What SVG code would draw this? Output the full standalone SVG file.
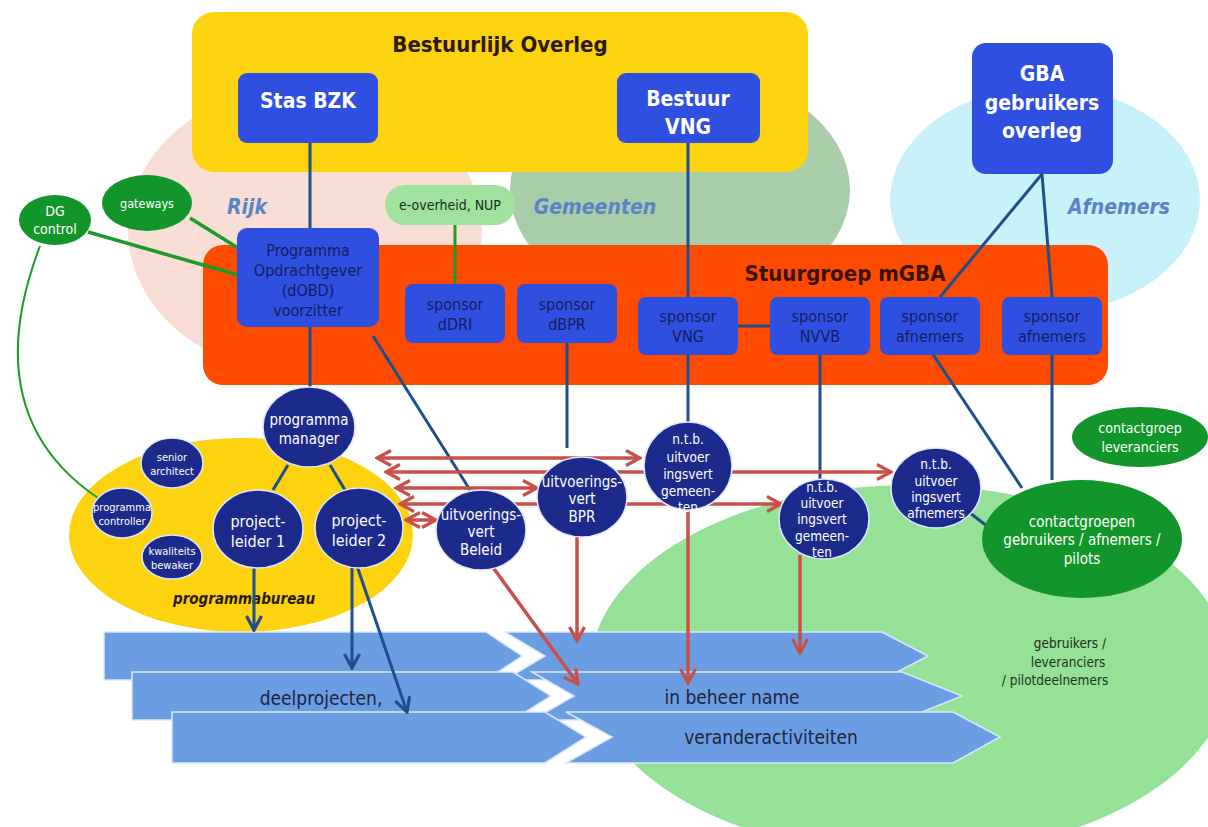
<svg xmlns="http://www.w3.org/2000/svg" width="1208" height="827" viewBox="0 0 1208 827">
<defs>
<style>
text{font-family:"DejaVu Sans Condensed","DejaVu Sans",sans-serif;text-anchor:middle}
.bx{fill:#2f4fe0}
.wb{fill:#ffffff;font-weight:bold;font-size:21px}
.dk{fill:#141c5c;font-size:16px}
.circ{fill:#1c2a8c;stroke:#dfe6ff;stroke-width:1.5}
.ct{fill:#ffffff}
.grn{fill:#12962c}
.reg{fill:#5a82c4;font-weight:bold;font-style:italic;font-size:21px}
.con{stroke:#1f4f8a;stroke-width:3;fill:none}
.gcon{stroke:#1e9a2a;fill:none}
.red{stroke:#c8504a;stroke-width:3.5;fill:none}
.band{fill:#6b9de2;stroke:#dbe7fb;stroke-width:1.5}
.bt{fill:#1c2440;font-size:19px}
</style>
<marker id="ar" viewBox="0 0 18 18" refX="16" refY="9" markerWidth="18" markerHeight="18" markerUnits="userSpaceOnUse" orient="auto-start-reverse">
<path d="M2,1.5 L16,9 L2,16.5" fill="none" stroke="#c8504a" stroke-width="3.2"/>
</marker>
<marker id="ab" viewBox="0 0 18 18" refX="16" refY="9" markerWidth="18" markerHeight="18" markerUnits="userSpaceOnUse" orient="auto">
<path d="M2,1.5 L16,9 L2,16.5" fill="none" stroke="#1f4f8a" stroke-width="3.2"/>
</marker>
</defs>
<rect width="1208" height="827" fill="#ffffff"/>

<g id="background">
<ellipse cx="305" cy="230" rx="177" ry="145" fill="#f8ded5"/>
<ellipse cx="680" cy="190" rx="170" ry="120" fill="#a9cda9"/>
<ellipse cx="1045" cy="200" rx="155" ry="113" fill="#c9f1f9"/>
<ellipse cx="910" cy="670" rx="320" ry="185" fill="#95e198"/>
</g>

<g id="bestuurlijk-overleg">
<rect x="192" y="12" width="616" height="160" rx="22" fill="#fdd20e"/>
<text x="500" y="52" style="font-weight:bold;font-size:22px;fill:#2b1a08">Bestuurlijk Overleg</text>
</g>

<g id="stuurgroep">
<rect x="203" y="245" width="905" height="140" rx="20" fill="#fe4b00"/>
<text x="845" y="281" style="font-weight:bold;font-size:22px;fill:#3a1200">Stuurgroep mGBA</text>
</g>

<g id="programmabureau">
<ellipse cx="241" cy="535" rx="172" ry="97" fill="#fdd20e"/>
<text x="244" y="604" style="font-weight:bold;font-style:italic;font-size:15px;fill:#2b1a08">programmabureau</text>
</g>

<g id="labels">
<text class="reg" x="247" y="214">Rijk</text>
<text class="reg" x="595" y="214">Gemeenten</text>
<text class="reg" x="1119" y="214">Afnemers</text>
<text x="1070" y="648" style="font-size:13.5px;fill:#1e301e">gebruikers /</text>
<text x="1068" y="667" style="font-size:13.5px;fill:#1e301e">leveranciers</text>
<text x="1055" y="685" style="font-size:13.5px;fill:#1e301e">/ pilotdeelnemers</text>
</g>

<g id="bands">
<polygon class="band" points="104,632 486,632 522,656 486,680 104,680"/>
<polygon class="band" points="505,632 882,632 928,656 882,680 505,680 545,656"/>
<polygon class="band" points="132,672 513,672 551,696 513,720 132,720"/>
<polygon class="band" points="532,672 902,672 962,696 902,720 532,720 574,696"/>
<polygon class="band" points="172,712 545,712 586,737 545,763 172,763"/>
<polygon class="band" points="566,712 953,712 1000,737 953,763 566,763 612,737"/>
<text class="bt" x="321" y="705">deelprojecten,</text>
<text class="bt" x="732" y="704">in beheer name</text>
<text class="bt" x="771" y="744">veranderactiviteiten</text>
</g>

<g id="connectors">
<line class="con" x1="310" y1="143" x2="310" y2="228"/>
<line class="con" x1="688" y1="143" x2="688" y2="297"/>
<line class="con" x1="738" y1="326" x2="770" y2="326"/>
<line class="con" x1="1042" y1="174" x2="940" y2="297"/>
<line class="con" x1="1042" y1="174" x2="1052" y2="297"/>
<line class="con" x1="310" y1="327" x2="310" y2="388"/>
<line class="con" x1="373" y1="336" x2="470" y2="490"/>
<line class="con" x1="567" y1="343" x2="567" y2="448"/>
<line class="con" x1="688" y1="355" x2="688" y2="423"/>
<line class="con" x1="820" y1="355" x2="820" y2="480"/>
<line class="con" x1="932" y1="353" x2="1022" y2="488"/>
<line class="con" x1="1052" y1="355" x2="1052" y2="480"/>
<line class="con" x1="970" y1="513" x2="987" y2="526"/>
<line class="con" x1="288" y1="465" x2="273" y2="490"/>
<line class="con" x1="330" y1="465" x2="345" y2="490"/>
<line class="con" x1="254" y1="566" x2="254" y2="630" marker-end="url(#ab)"/>
<line class="con" x1="352" y1="566" x2="352" y2="668" marker-end="url(#ab)"/>
<line class="con" x1="357" y1="566" x2="407" y2="712" marker-end="url(#ab)"/>
<line class="gcon" stroke-width="3" x1="455" y1="225" x2="455" y2="284"/>
<line class="gcon" stroke-width="3.5" x1="190" y1="218" x2="238" y2="248"/>
<line class="gcon" stroke-width="3.5" x1="88" y1="232" x2="238" y2="275"/>
<path class="gcon" stroke-width="2" d="M40,246 C8,330 -2,430 98,498"/>
<line class="red" x1="377" y1="458" x2="640" y2="458" marker-start="url(#ar)" marker-end="url(#ar)"/>
<line class="red" x1="386" y1="472" x2="891" y2="472" marker-start="url(#ar)" marker-end="url(#ar)"/>
<line class="red" x1="396" y1="488" x2="537" y2="488" marker-start="url(#ar)" marker-end="url(#ar)"/>
<line class="red" x1="400" y1="504" x2="781" y2="504" marker-start="url(#ar)" marker-end="url(#ar)"/>
<line class="red" x1="406" y1="520" x2="436" y2="520" marker-start="url(#ar)" marker-end="url(#ar)"/>
<line class="red" x1="484" y1="555" x2="578" y2="684" marker-end="url(#ar)"/>
<line class="red" x1="577" y1="535" x2="577" y2="641" marker-end="url(#ar)"/>
<line class="red" x1="688" y1="508" x2="688" y2="683" marker-end="url(#ar)"/>
<line class="red" x1="800" y1="555" x2="800" y2="653" marker-end="url(#ar)"/>
</g>

<g id="stas-bzk">
<rect class="bx" x="238" y="73" width="140" height="70" rx="9"/>
<text class="wb" x="308" y="108">Stas BZK</text>
</g>
<g id="bestuur-vng">
<rect class="bx" x="617" y="73" width="143" height="70" rx="9"/>
<text class="wb" x="688" y="106">Bestuur</text>
<text class="wb" x="688" y="134">VNG</text>
</g>
<g id="gba-gebruikers-overleg">
<rect class="bx" x="972" y="43" width="141" height="131" rx="14"/>
<text class="wb" x="1042" y="81">GBA</text>
<text class="wb" x="1042" y="110">gebruikers</text>
<text class="wb" x="1042" y="138">overleg</text>
</g>

<g id="dg-control">
<ellipse class="grn" cx="55" cy="220" rx="36" ry="25"/>
<text class="ct" x="55" y="216" style="font-size:14px">DG</text>
<text class="ct" x="55" y="234" style="font-size:14px">control</text>
</g>
<g id="gateways">
<ellipse class="grn" cx="147" cy="203" rx="45" ry="28"/>
<text class="ct" x="147" y="208" style="font-size:12.5px">gateways</text>
</g>
<g id="e-overheid">
<rect x="385" y="185" width="130" height="40" rx="20" fill="#9fe2a0"/>
<text x="450" y="210" style="font-size:14px;fill:#1a2a1a">e-overheid, NUP</text>
</g>

<g id="programma-opdrachtgever">
<rect class="bx" x="237" y="228" width="142" height="99" rx="10"/>
<text class="dk" x="308" y="256">Programma</text>
<text class="dk" x="308" y="276">Opdrachtgever</text>
<text class="dk" x="308" y="296">(dOBD)</text>
<text class="dk" x="308" y="316">voorzitter</text>
</g>
<g id="sponsor-ddri">
<rect class="bx" x="405" y="284" width="100" height="59" rx="8"/>
<text class="dk" x="455" y="310">sponsor</text>
<text class="dk" x="455" y="330">dDRI</text>
</g>
<g id="sponsor-dbpr">
<rect class="bx" x="517" y="284" width="100" height="59" rx="8"/>
<text class="dk" x="567" y="310">sponsor</text>
<text class="dk" x="567" y="330">dBPR</text>
</g>
<g id="sponsor-vng">
<rect class="bx" x="638" y="297" width="100" height="58" rx="8"/>
<text class="dk" x="688" y="322">sponsor</text>
<text class="dk" x="688" y="342">VNG</text>
</g>
<g id="sponsor-nvvb">
<rect class="bx" x="770" y="297" width="100" height="58" rx="8"/>
<text class="dk" x="820" y="322">sponsor</text>
<text class="dk" x="820" y="342">NVVB</text>
</g>
<g id="sponsor-afnemers-1">
<rect class="bx" x="880" y="297" width="100" height="58" rx="8"/>
<text class="dk" x="930" y="322">sponsor</text>
<text class="dk" x="930" y="342">afnemers</text>
</g>
<g id="sponsor-afnemers-2">
<rect class="bx" x="1002" y="297" width="100" height="58" rx="8"/>
<text class="dk" x="1052" y="322">sponsor</text>
<text class="dk" x="1052" y="342">afnemers</text>
</g>

<g id="programma-manager">
<ellipse class="circ" cx="309" cy="427" rx="46" ry="40"/>
<text class="ct" x="309" y="425" style="font-size:15px">programma</text>
<text class="ct" x="309" y="444" style="font-size:15px">manager</text>
</g>
<g id="senior-architect">
<ellipse class="circ" cx="172" cy="463" rx="31" ry="25"/>
<text class="ct" x="172" y="461" style="font-size:11px">senior</text>
<text class="ct" x="172" y="475" style="font-size:11px">architect</text>
</g>
<g id="programma-controller">
<ellipse class="circ" cx="122" cy="513" rx="30" ry="25"/>
<text class="ct" x="122" y="511" style="font-size:11px">programma</text>
<text class="ct" x="122" y="525" style="font-size:11px">controller</text>
</g>
<g id="kwaliteits-bewaker">
<ellipse class="circ" cx="172" cy="557" rx="30" ry="22"/>
<text class="ct" x="172" y="555" style="font-size:11px">kwaliteits</text>
<text class="ct" x="172" y="569" style="font-size:11px">bewaker</text>
</g>
<g id="projectleider-1">
<ellipse class="circ" cx="258" cy="529" rx="45" ry="39"/>
<text class="ct" x="258" y="527" style="font-size:16px">project-</text>
<text class="ct" x="258" y="547" style="font-size:16px">leider 1</text>
</g>
<g id="projectleider-2">
<ellipse class="circ" cx="359" cy="528" rx="44" ry="40"/>
<text class="ct" x="359" y="526" style="font-size:16px">project-</text>
<text class="ct" x="359" y="546" style="font-size:16px">leider 2</text>
</g>
<g id="uitvoeringsvert-beleid">
<ellipse class="circ" cx="481" cy="530" rx="45" ry="40"/>
<text class="ct" x="481" y="520" style="font-size:15px">uitvoerings-</text>
<text class="ct" x="481" y="537" style="font-size:15px">vert</text>
<text class="ct" x="481" y="555" style="font-size:15px">Beleid</text>
</g>
<g id="uitvoeringsvert-bpr">
<ellipse class="circ" cx="582" cy="497" rx="45" ry="40"/>
<text class="ct" x="582" y="487" style="font-size:15px">uitvoerings-</text>
<text class="ct" x="582" y="504" style="font-size:15px">vert</text>
<text class="ct" x="582" y="522" style="font-size:15px">BPR</text>
</g>
<g id="ntb-gemeenten-1">
<ellipse class="circ" cx="688" cy="466" rx="44" ry="44"/>
<text class="ct" x="688" y="444" style="font-size:13.5px">n.t.b.</text>
<text class="ct" x="688" y="462" style="font-size:13.5px">uitvoer</text>
<text class="ct" x="688" y="479" style="font-size:13.5px">ingsvert</text>
<text class="ct" x="688" y="496" style="font-size:13.5px">gemeen-</text>
<text class="ct" x="688" y="512" style="font-size:13.5px">ten</text>
</g>
<g id="ntb-gemeenten-2">
<ellipse class="circ" cx="824" cy="519" rx="45" ry="40"/>
<text class="ct" x="822" y="492" style="font-size:13.5px">n.t.b.</text>
<text class="ct" x="822" y="508" style="font-size:13.5px">uitvoer</text>
<text class="ct" x="822" y="524" style="font-size:13.5px">ingsvert</text>
<text class="ct" x="822" y="541" style="font-size:13.5px">gemeen-</text>
<text class="ct" x="822" y="557" style="font-size:13.5px">ten</text>
</g>
<g id="ntb-afnemers">
<ellipse class="circ" cx="936" cy="488" rx="45" ry="40"/>
<text class="ct" x="936" y="469" style="font-size:13.5px">n.t.b.</text>
<text class="ct" x="936" y="486" style="font-size:13.5px">uitvoer</text>
<text class="ct" x="936" y="502" style="font-size:13.5px">ingsvert</text>
<text class="ct" x="936" y="518" style="font-size:13.5px">afnemers</text>
</g>
<g id="contactgroep-leveranciers">
<ellipse class="grn" cx="1140" cy="437" rx="68" ry="30"/>
<text class="ct" x="1140" y="433" style="font-size:14px">contactgroep</text>
<text class="ct" x="1140" y="452" style="font-size:14px">leveranciers</text>
</g>
<g id="contactgroepen">
<ellipse class="grn" cx="1082" cy="539" rx="100" ry="59"/>
<text class="ct" x="1082" y="527" style="font-size:15px">contactgroepen</text>
<text class="ct" x="1082" y="545" style="font-size:15px">gebruikers / afnemers /</text>
<text class="ct" x="1082" y="564" style="font-size:15px">pilots</text>
</g>
</svg>
